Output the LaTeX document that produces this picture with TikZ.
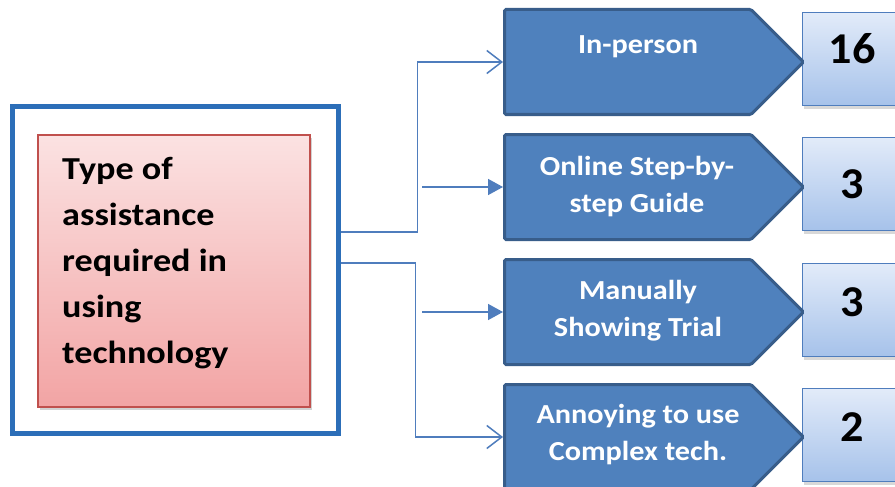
\documentclass[tikz,border=0pt]{standalone}
\usepackage{fontspec}
\setmainfont{Carlito}
\usetikzlibrary{arrows.meta,shapes.symbols,shadows}

\definecolor{frameblue}{RGB}{44,110,184}
\definecolor{linkblue}{RGB}{79,125,189}
\definecolor{sigfill}{RGB}{79,129,189}
\definecolor{sigborder}{RGB}{56,93,138}
\definecolor{pinktop}{RGB}{251,226,226}
\definecolor{pinkbottom}{RGB}{242,164,164}
\definecolor{pinkborder}{RGB}{192,80,77}
\definecolor{valtop}{RGB}{226,235,249}
\definecolor{valbottom}{RGB}{166,194,234}

\tikzset{
  frame/.style={draw=frameblue, line width=5pt, minimum width=326pt, minimum height=326pt, inner sep=0pt},
  topic/.style={draw=pinkborder, line width=1.2pt, top color=pinktop, bottom color=pinkbottom,
    minimum width=272pt, minimum height=272pt, inner sep=0pt,
    drop shadow={shadow xshift=2pt, shadow yshift=-3pt, opacity=0.35}},
  topictext/.style={font=\fontsize{32}{46}\selectfont\bfseries, align=left, inner sep=0pt,
    anchor=west, xscale=1.13, transform shape},
  sig/.style={signal, signal to=east, signal pointer angle=90, fill=sigfill, draw=sigborder,
    line width=3pt, minimum width=299pt, minimum height=105pt, inner sep=0pt, anchor=west,
    rounded corners=1.5pt},
  sigtext/.style={font=\fontsize{27.5}{37}\selectfont\bfseries, text=white, align=center,
    inner sep=0pt, xscale=1.1, transform shape},
  valbox/.style={draw=linkblue, line width=1.3pt, top color=valtop, bottom color=valbottom,
    minimum width=110pt, minimum height=93pt, inner sep=0pt, anchor=north west,
    drop shadow={shadow xshift=1.5pt, shadow yshift=-3pt, opacity=0.3}},
  valtext/.style={font=\fontsize{44}{50}\selectfont\bfseries, inner sep=0pt, xscale=1.05, transform shape},
  link/.style={draw=linkblue, line width=1.5pt},
  openhead/.style={link, -{Straight Barb[length=15pt, width=23pt, line width=1.5pt]}},
  solidhead/.style={link, -{Triangle[length=15pt, width=16pt]}}
}

\begin{document}
\begin{tikzpicture}[x=1pt, y=-1pt]
\useasboundingbox (0,0) rectangle (895,487);
\clip (0,0) rectangle (895,487);
\fill[white] (0,0) rectangle (895,487);

% left frame with the topic card
\node[frame] (outer) at (175,270) {};
\node[topic] (topic) at (174,271) {};
\node[topictext] (topiclabel) at (62,263)
  {Type of\\assistance\\required in\\using\\technology};

% value boxes on the right
\node[valbox] (v1) at (802,12) {};
\node[valbox] (v2) at (802,137) {};
\node[valbox] (v3) at (802,263) {};
\node[valbox] (v4) at (802,388) {};

% pointed category boxes
\node[sig] (a1) at (503,62) {};
\node[sig] (a2) at (503,187) {};
\node[sig] (a3) at (503,312) {};
\node[sig] (a4) at (503,437) {};

\node[sigtext] (l1) at (638,47) {In-person};
\node[sigtext] (l2) at (637,187) {Online Step-by-\\step Guide};
\node[sigtext] (l3) at (638,311) {Manually\\Showing Trial};
\node[sigtext] (l4) at (638,435) {Annoying to use\\Complex tech.};

\node[valtext] (n1) at (852,49) {16};
\node[valtext] (n2) at (852,184) {3};
\node[valtext] (n3) at (852,302) {3};
\node[valtext] (n4) at (852,427) {2};

% connectors
\draw[openhead] ([yshift=38pt]outer.east) -- ++(77,0) |- (a1.west);
\draw[openhead] ([yshift=7pt]outer.east) -- ++(75,0) |- (a4.west);
\coordinate (m2) at (422,187);
\coordinate (m3) at (422,312);
\draw[solidhead] (m2) -- (a2.west);
\draw[solidhead] (m3) -- (a3.west);
\end{tikzpicture}
\end{document}
